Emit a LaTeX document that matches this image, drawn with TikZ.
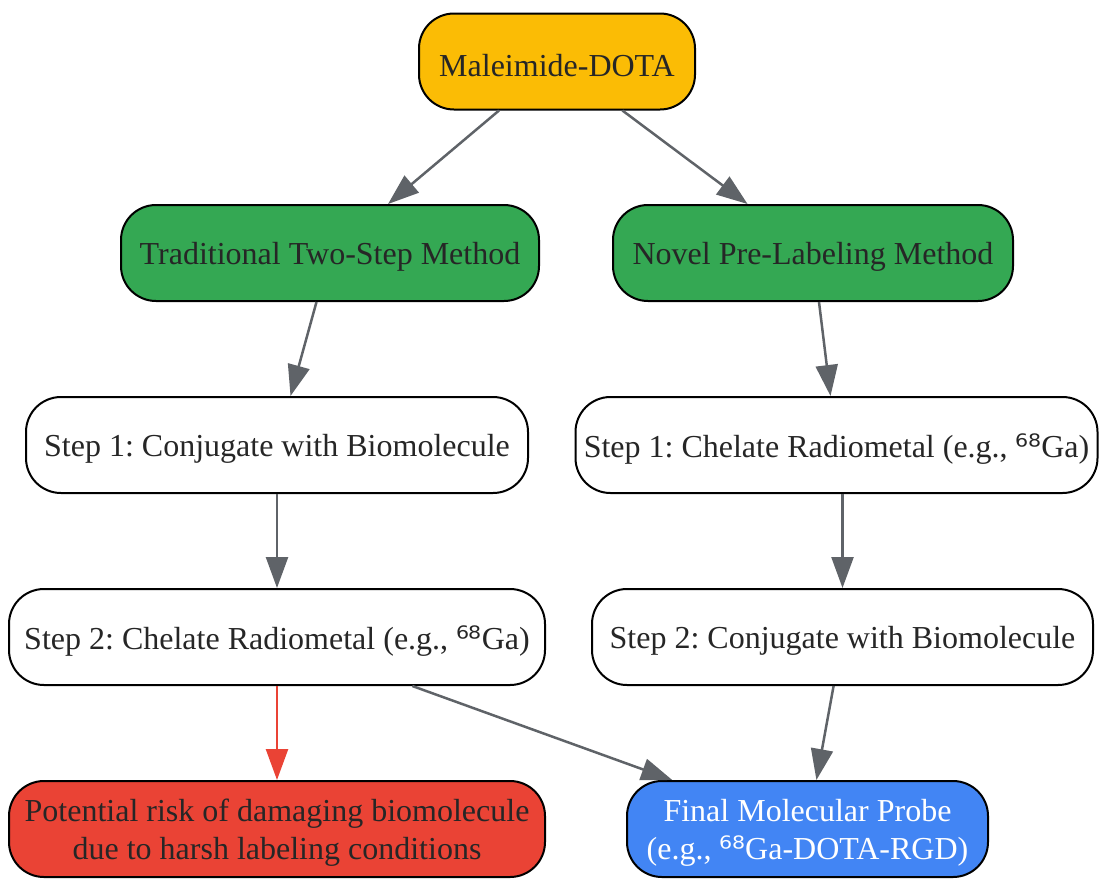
\documentclass[tikz,border=0pt]{standalone}
\usepackage{fontspec}
\setmainfont{Liberation Serif}
\newfontfamily\supf{DejaVu Sans}
\usetikzlibrary{arrows.meta}
\definecolor{cyellow}{HTML}{FBBC05}
\definecolor{cgreen}{HTML}{34A853}
\definecolor{cred}{HTML}{EA4335}
\definecolor{cblue}{HTML}{4285F4}
\definecolor{edgegray}{HTML}{5F6368}
\definecolor{txt}{HTML}{262626}
\newcommand{\sixeight}{{\supf ⁶⁸}}
\tikzset{
  box/.style={draw=black, line width=2pt, rounded corners=35pt, minimum height=96pt,
    inner sep=0pt},
  lbl/.style={font=\fontsize{32}{38}\selectfont\frenchspacing, text=txt, align=center, yshift=-4pt, inner sep=0pt},
  conn/.style={draw=edgegray, line width=2.5pt, -{Triangle[length=31pt,width=22pt]}},
  redconn/.style={draw=cred, line width=2.5pt, -{Triangle[length=31pt,width=22pt]}},
}
\begin{document}
\begin{tikzpicture}[x=1pt,y=-1pt]
\useasboundingbox (0,0) rectangle (1099,878);
\node[box, fill=cyellow, minimum width=276pt, label={[lbl]center:{Maleimide-DOTA}}] (md) at (557,61.5) {};
\node[box, fill=cgreen, minimum width=418pt, label={[lbl]center:{Traditional Two-Step Method}}] (trad) at (330,253) {};
\node[box, fill=cgreen, minimum width=400pt, label={[lbl]center:{Novel Pre-Labeling Method}}] (nov) at (813,253) {};
\node[box, fill=white, minimum width=502pt, label={[lbl]center:{Step 1: Conjugate with Biomolecule}}] (s1l) at (277,445) {};
\node[box, fill=white, minimum width=522pt, label={[lbl]center:{Step 1: Chelate Radiometal (e.g., \sixeight Ga)}}] (s1r) at (836.5,445) {};
\node[box, fill=white, minimum width=536pt, label={[lbl]center:{Step 2: Chelate Radiometal (e.g., \sixeight Ga)}}] (s2l) at (277,637) {};
\node[box, fill=white, minimum width=501pt, label={[lbl]center:{Step 2: Conjugate with Biomolecule}}] (s2r) at (842.5,637) {};
\node[box, fill=cred, minimum width=536pt, label={[lbl]center:{Potential risk of damaging biomolecule\\due to harsh labeling conditions}}] (risk) at (277,829) {};
\node[box, fill=cblue, minimum width=361pt, label={[lbl, text=white]center:{Final Molecular Probe\\(e.g., \sixeight Ga-DOTA-RGD)}}] (fin) at (807.5,829) {};
\draw[conn] (md) -- (trad);
\draw[conn] (md) -- (nov);
\draw[conn] (trad) -- (s1l);
\draw[conn] (nov) -- (s1r);
\draw[conn] (s1l) -- (s2l);
\draw[conn] (s1r.south -| s2r) -- (s2r);
\draw[redconn] (s2l) -- (risk);
\draw[conn] (s2l) -- (fin);
\draw[conn] (s2r) -- (fin);
\end{tikzpicture}
\end{document}
